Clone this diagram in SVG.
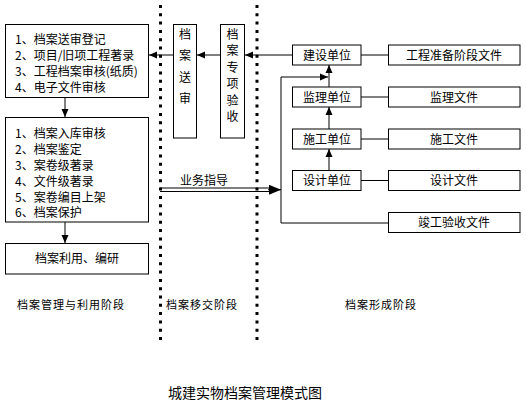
<svg xmlns="http://www.w3.org/2000/svg" width="526" height="414" viewBox="0 0 526 414">
<style>
text{font-family:"Noto Sans CJK SC","Noto Sans CJK JP",sans-serif;font-size:12px;fill:#000}
.c{text-anchor:middle}
.box{fill:#fff;stroke:#000;stroke-width:1}
.ln{fill:none;stroke:#000;stroke-width:1}
.dot{fill:none;stroke:#000;stroke-width:3;stroke-dasharray:3 5.3}
.lab{font-size:11px;letter-spacing:1px}
.title{font-size:14px}
</style>
<defs>
<marker id="ah" viewBox="0 0 8 8" refX="8" refY="4" markerWidth="8" markerHeight="8" markerUnits="userSpaceOnUse" orient="auto">
<path d="M0,0.5 L8,4 L0,7.5 Z" fill="#000"/>
</marker>
<marker id="ahb" viewBox="0 0 12 10" refX="12" refY="5" markerWidth="12" markerHeight="10" markerUnits="userSpaceOnUse" orient="auto">
<path d="M0,0 L12,5 L0,10 Z" fill="#000"/>
</marker>
</defs>
<rect width="526" height="414" fill="#fff"/>
<g id="dividers">
<line class="dot" x1="160.5" y1="5" x2="160.5" y2="345"/>
<line class="dot" x1="257" y1="5" x2="257" y2="345"/>
</g>
<g id="connectors">
<line class="ln" x1="292" y1="55" x2="245" y2="55" marker-end="url(#ah)"/>
<line class="ln" x1="220" y1="55" x2="197" y2="55" marker-end="url(#ah)"/>
<line class="ln" x1="173" y1="55" x2="149" y2="55" marker-end="url(#ah)"/>
<line class="ln" x1="65" y1="98" x2="65" y2="117" marker-end="url(#ah)"/>
<line class="ln" x1="65" y1="222" x2="65" y2="243" marker-end="url(#ah)"/>
<line class="ln" x1="361" y1="55" x2="388" y2="55"/>
<line class="ln" x1="361" y1="97" x2="388" y2="97"/>
<line class="ln" x1="361" y1="139" x2="388" y2="139"/>
<line class="ln" x1="361" y1="180.5" x2="388" y2="180.5"/>
<line class="ln" x1="329" y1="87" x2="329" y2="65" marker-end="url(#ah)"/>
<line class="ln" x1="329" y1="129" x2="329" y2="107" marker-end="url(#ah)"/>
<line class="ln" x1="329" y1="170" x2="329" y2="149" marker-end="url(#ah)"/>
<polyline class="ln" points="388,223 281,223 281,77 328,77" marker-end="url(#ah)"/>
<line class="ln" x1="160" y1="188" x2="272" y2="188"/>
<line class="ln" x1="160" y1="191.5" x2="272" y2="191.5"/>
<line class="ln" x1="268" y1="189.75" x2="281" y2="189.75" stroke-width="0" marker-end="url(#ahb)"/>
<text x="180" y="184.5">业务指导</text>
</g>
<g id="n-submit">
<rect class="box" x="5.5" y="24.5" width="143" height="73"/>
<text x="15" y="43.5">1、档案送审登记</text>
<text x="15" y="59.5">2、项目/旧项工程著录</text>
<text x="15" y="75.5">3、工程档案审核(纸质)</text>
<text x="15" y="91.5">4、电子文件审核</text>
</g>
<g id="n-store">
<rect class="box" x="5.5" y="117.5" width="143" height="104.5"/>
<text x="15" y="137.5">1、档案入库审核</text>
<text x="15" y="153.5">2、档案鉴定</text>
<text x="15" y="169.5">3、案卷级著录</text>
<text x="15" y="185.5">4、文件级著录</text>
<text x="15" y="201.5">5、案卷编目上架</text>
<text x="15" y="217">6、档案保护</text>
</g>
<g id="n-use">
<rect class="box" x="5.5" y="243.5" width="143" height="30.5"/>
<text class="c" x="77" y="263">档案利用、编研</text>
</g>
<g id="n-send">
<rect class="box" x="173.5" y="24.5" width="23" height="113.5"/>
<text class="c" x="185" y="38.5">档</text>
<text class="c" x="185" y="60">案</text>
<text class="c" x="185" y="81.5">送</text>
<text class="c" x="185" y="103">审</text>
</g>
<g id="n-accept">
<rect class="box" x="220.5" y="24.5" width="24" height="113.5"/>
<text class="c" x="232.5" y="38.5">档</text>
<text class="c" x="232.5" y="55">案</text>
<text class="c" x="232.5" y="71.5">专</text>
<text class="c" x="232.5" y="88">项</text>
<text class="c" x="232.5" y="104.5">验</text>
<text class="c" x="232.5" y="121">收</text>
</g>
<g id="n-jianshe">
<rect class="box" x="292.5" y="45" width="68.5" height="20"/>
<text class="c" x="327" y="59.5">建设单位</text>
</g>
<g id="n-jianli">
<rect class="box" x="292.5" y="87" width="68.5" height="20"/>
<text class="c" x="327" y="101.5">监理单位</text>
</g>
<g id="n-shigong">
<rect class="box" x="292.5" y="129" width="68.5" height="20"/>
<text class="c" x="327" y="143.5">施工单位</text>
</g>
<g id="n-sheji">
<rect class="box" x="292.5" y="170.5" width="68.5" height="20"/>
<text class="c" x="327" y="185">设计单位</text>
</g>
<g id="n-prep">
<rect class="box" x="388.5" y="45" width="131.5" height="20"/>
<text class="c" x="454" y="59.5">工程准备阶段文件</text>
</g>
<g id="n-jianlidoc">
<rect class="box" x="388.5" y="87" width="131.5" height="20"/>
<text class="c" x="454" y="101.5">监理文件</text>
</g>
<g id="n-shigongdoc">
<rect class="box" x="388.5" y="129" width="131.5" height="20"/>
<text class="c" x="454" y="143.5">施工文件</text>
</g>
<g id="n-shejidoc">
<rect class="box" x="388.5" y="170.5" width="131.5" height="20"/>
<text class="c" x="454" y="185">设计文件</text>
</g>
<g id="n-final">
<rect class="box" x="388.5" y="212.5" width="131.5" height="20"/>
<text class="c" x="454" y="227">竣工验收文件</text>
</g>
<g id="labels">
<text class="lab" x="17" y="309">档案管理与利用阶段</text>
<text class="lab" x="166" y="309">档案移交阶段</text>
<text class="lab" x="345" y="309">档案形成阶段</text>
<text class="title" x="168" y="398">城建实物档案管理模式图</text>
</g>
</svg>
